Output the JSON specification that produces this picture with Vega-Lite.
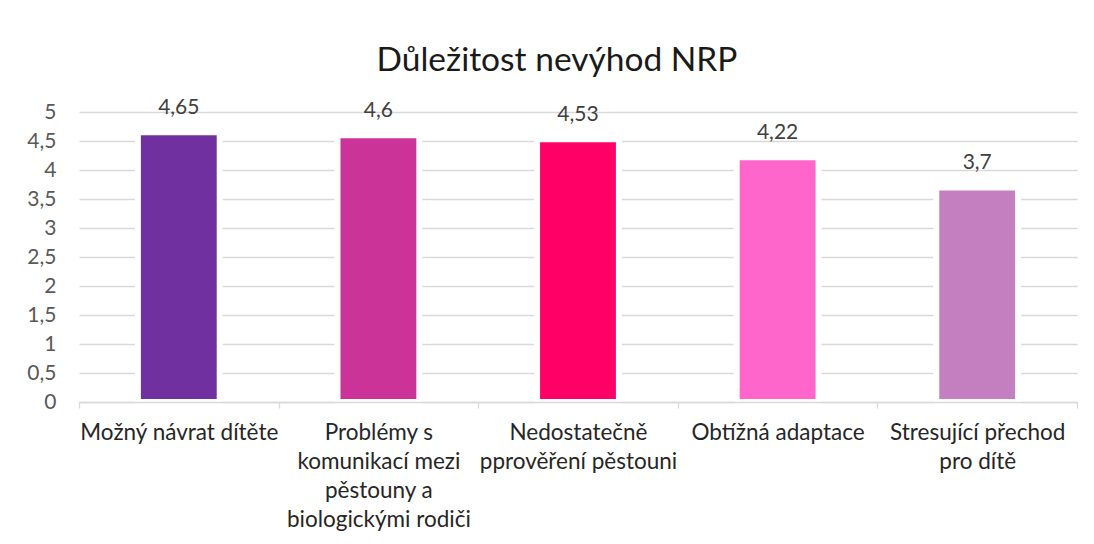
{
  "$schema": "https://vega.github.io/schema/vega-lite/v6.json",
  "width": 998,
  "height": 290,
  "autosize": "none",
  "padding": {"left": 79, "top": 112, "right": 17, "bottom": 142},
  "background": "white",
  "title": {
    "text": "Důležitost nevýhod NRP",
    "font": "Lato",
    "fontSize": 33.5,
    "fontWeight": "normal",
    "color": "#1a1a1a",
    "anchor": "middle",
    "baseline": "alphabetic",
    "offset": 36,
    "dx": -21,
    "dy": 43
  },
  "data": {
    "values": [
      {"kategorie": "Možný návrat dítěte", "hodnota": 4.65, "popisek": "4,65", "barva": "#7030A0"},
      {"kategorie": "Problémy s|komunikací mezi|pěstouny a|biologickými rodiči", "hodnota": 4.6, "popisek": "4,6", "barva": "#CC3399"},
      {"kategorie": "Nedostatečně|pprověření pěstouni", "hodnota": 4.53, "popisek": "4,53", "barva": "#FF0066"},
      {"kategorie": "Obtížná adaptace", "hodnota": 4.22, "popisek": "4,22", "barva": "#FF66CC"},
      {"kategorie": "Stresující přechod|pro dítě", "hodnota": 3.7, "popisek": "3,7", "barva": "#C47FC0"}
    ]
  },
  "encoding": {
    "x": {
      "field": "kategorie",
      "type": "nominal",
      "sort": null,
      "scale": {"paddingInner": 0, "paddingOuter": 0},
      "axis": {
        "title": null,
        "labelAngle": 0,
        "labelExpr": "isValid(datum.value) ? split(datum.value, '|') : ''",
        "labelFont": "Lato",
        "labelFontSize": 22.5,
        "labelColor": "#262626",
        "labelLineHeight": 29,
        "labelPadding": 13,
        "labelLimit": 0,
        "tickBand": "extent",
        "tickColor": "#D9D9D9",
        "tickSize": 6,
        "tickWidth": 1.3,
        "domainColor": "#D9D9D9",
        "domainWidth": 1.3,
        "grid": false,
        "zindex": 1
      }
    },
    "y": {
      "field": "hodnota",
      "type": "quantitative",
      "scale": {"domain": [0, 5]},
      "axis": {
        "title": null,
        "values": [0, 0.5, 1, 1.5, 2, 2.5, 3, 3.5, 4, 4.5, 5],
        "labelExpr": "replace(format(datum.value, ''), '.', ',')",
        "labelFont": "Lato",
        "labelFontSize": 21,
        "labelColor": "#595959",
        "labelPadding": 23,
        "ticks": false,
        "domain": false,
        "grid": true,
        "gridColor": "#D9D9D9",
        "gridWidth": 1.3,
        "zindex": 0
      }
    }
  },
  "layer": [
    {
      "mark": {"type": "bar", "stroke": "white", "strokeWidth": 6, "width": {"band": 0.41}},
      "encoding": {
        "color": {"field": "barva", "type": "nominal", "scale": null}
      }
    },
    {
      "mark": {"type": "text", "baseline": "alphabetic", "dy": -18, "font": "Lato", "fontSize": 21, "color": "#404040"},
      "encoding": {
        "text": {"field": "popisek"}
      }
    }
  ],
  "config": {
    "view": {"stroke": null}
  }
}
